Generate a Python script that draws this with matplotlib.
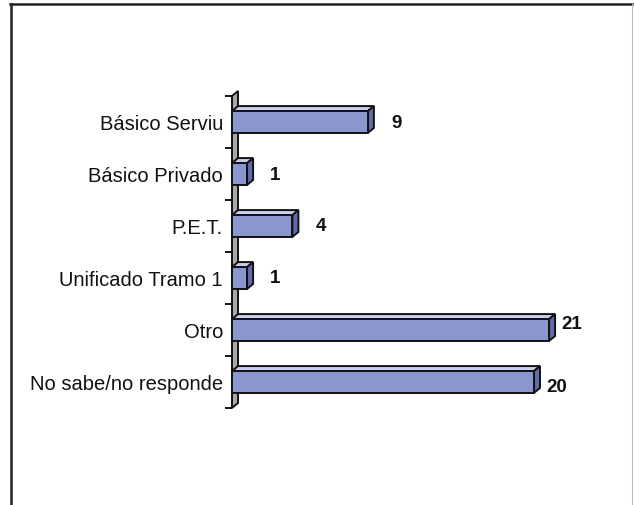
import matplotlib
matplotlib.use("Agg")
import matplotlib.pyplot as plt
from matplotlib.patches import Polygon, Rectangle
from matplotlib.lines import Line2D

plt.rcParams['font.family'] = ['Liberation Sans', 'DejaVu Sans']

categories = ["Básico Serviu", "Básico Privado", "P.E.T.", "Unificado Tramo 1",
              "Otro", "No sabe/no responde"]
values = [9, 1, 4, 1, 21, 20]

W, H = 634, 506
PX_PER_UNIT = 15.1
fig = plt.figure(figsize=(W / 100, H / 100), dpi=100)
fig.patch.set_facecolor("white")

# axes box = front plane of the plot area (pixels)
left, right, top, bottom = 232, 232 + 26 * PX_PER_UNIT, 97, 409
ax = fig.add_axes([left / W, 1 - bottom / H, (right - left) / W, (bottom - top) / H])
ax.set_xlim(0, 26)
ax.set_ylim(len(categories) - 0.5, -0.5)
ax.set_facecolor("none")
for s in ax.spines.values():
    s.set_visible(False)
ax.set_xticks([])

# 3d depth in data units
dx = 6 / PX_PER_UNIT
dy = -5 / ((bottom - top) / len(categories))
bh = 0.42

# left wall
n = len(categories)
wall = Polygon([(0, -0.5), (dx, -0.5 + dy), (dx, n - 0.5 + dy), (0, n - 0.5)],
               closed=True, facecolor="#a9a9a9", edgecolor="#111111", lw=1.4,
               clip_on=False, zorder=1)
ax.add_patch(wall)

front_c, top_c, side_c = "#8a97cc", "#c9cfee", "#5f6eab"
nudge = {4: (-11, -6), 5: (-11, 5)}  # labels moved by hand in the original
for i, v in enumerate(values):
    y0 = i + bh / 2   # lower edge (axis inverted)
    y1 = i - bh / 2   # upper edge
    ax.add_patch(Polygon([(0, y1), (v, y1), (v + dx, y1 + dy), (dx, y1 + dy)],
                         closed=True, facecolor=top_c, edgecolor="#111111",
                         lw=1.4, clip_on=False, zorder=3))
    ax.add_patch(Polygon([(v, y1), (v + dx, y1 + dy), (v + dx, y0 + dy), (v, y0)],
                         closed=True, facecolor=side_c, edgecolor="#111111",
                         lw=1.4, clip_on=False, zorder=3))
    ax.add_patch(Rectangle((0, y1), v, bh, facecolor=front_c, edgecolor="#111111",
                           lw=1.4, clip_on=False, zorder=4))
    ox, oy = nudge.get(i, (0, 0))
    ax.annotate(str(v), xy=(v + dx, i), xytext=(17 + ox, -oy),
                textcoords="offset pixels", ha="left", va="center",
                fontsize=13.5, fontweight="bold", color="#111111")

ax.set_yticks(range(n))
ax.set_yticklabels(categories, fontsize=14.5, color="#111111")
ax.tick_params(axis="y", which="major", length=0, pad=6.5)
ax.set_yticks([k - 0.5 for k in range(n + 1)], minor=True)
ax.tick_params(axis="y", which="minor", length=5, width=1.4, color="#111111",
               direction="out")

# outer frame of the scanned chart
fig.add_artist(Line2D([10.5 / W, 10.5 / W], [0, 1 - 5 / H], color="#222222", lw=1.8))
fig.add_artist(Line2D([10 / W, 632 / W], [1 - 5 / H, 1 - 5 / H], color="#222222", lw=1.8))
fig.add_artist(Line2D([632 / W, 632 / W], [0, 1 - 5 / H], color="#bbbbbb", lw=0.8))

fig.savefig("out.png", dpi=100, facecolor="white")
